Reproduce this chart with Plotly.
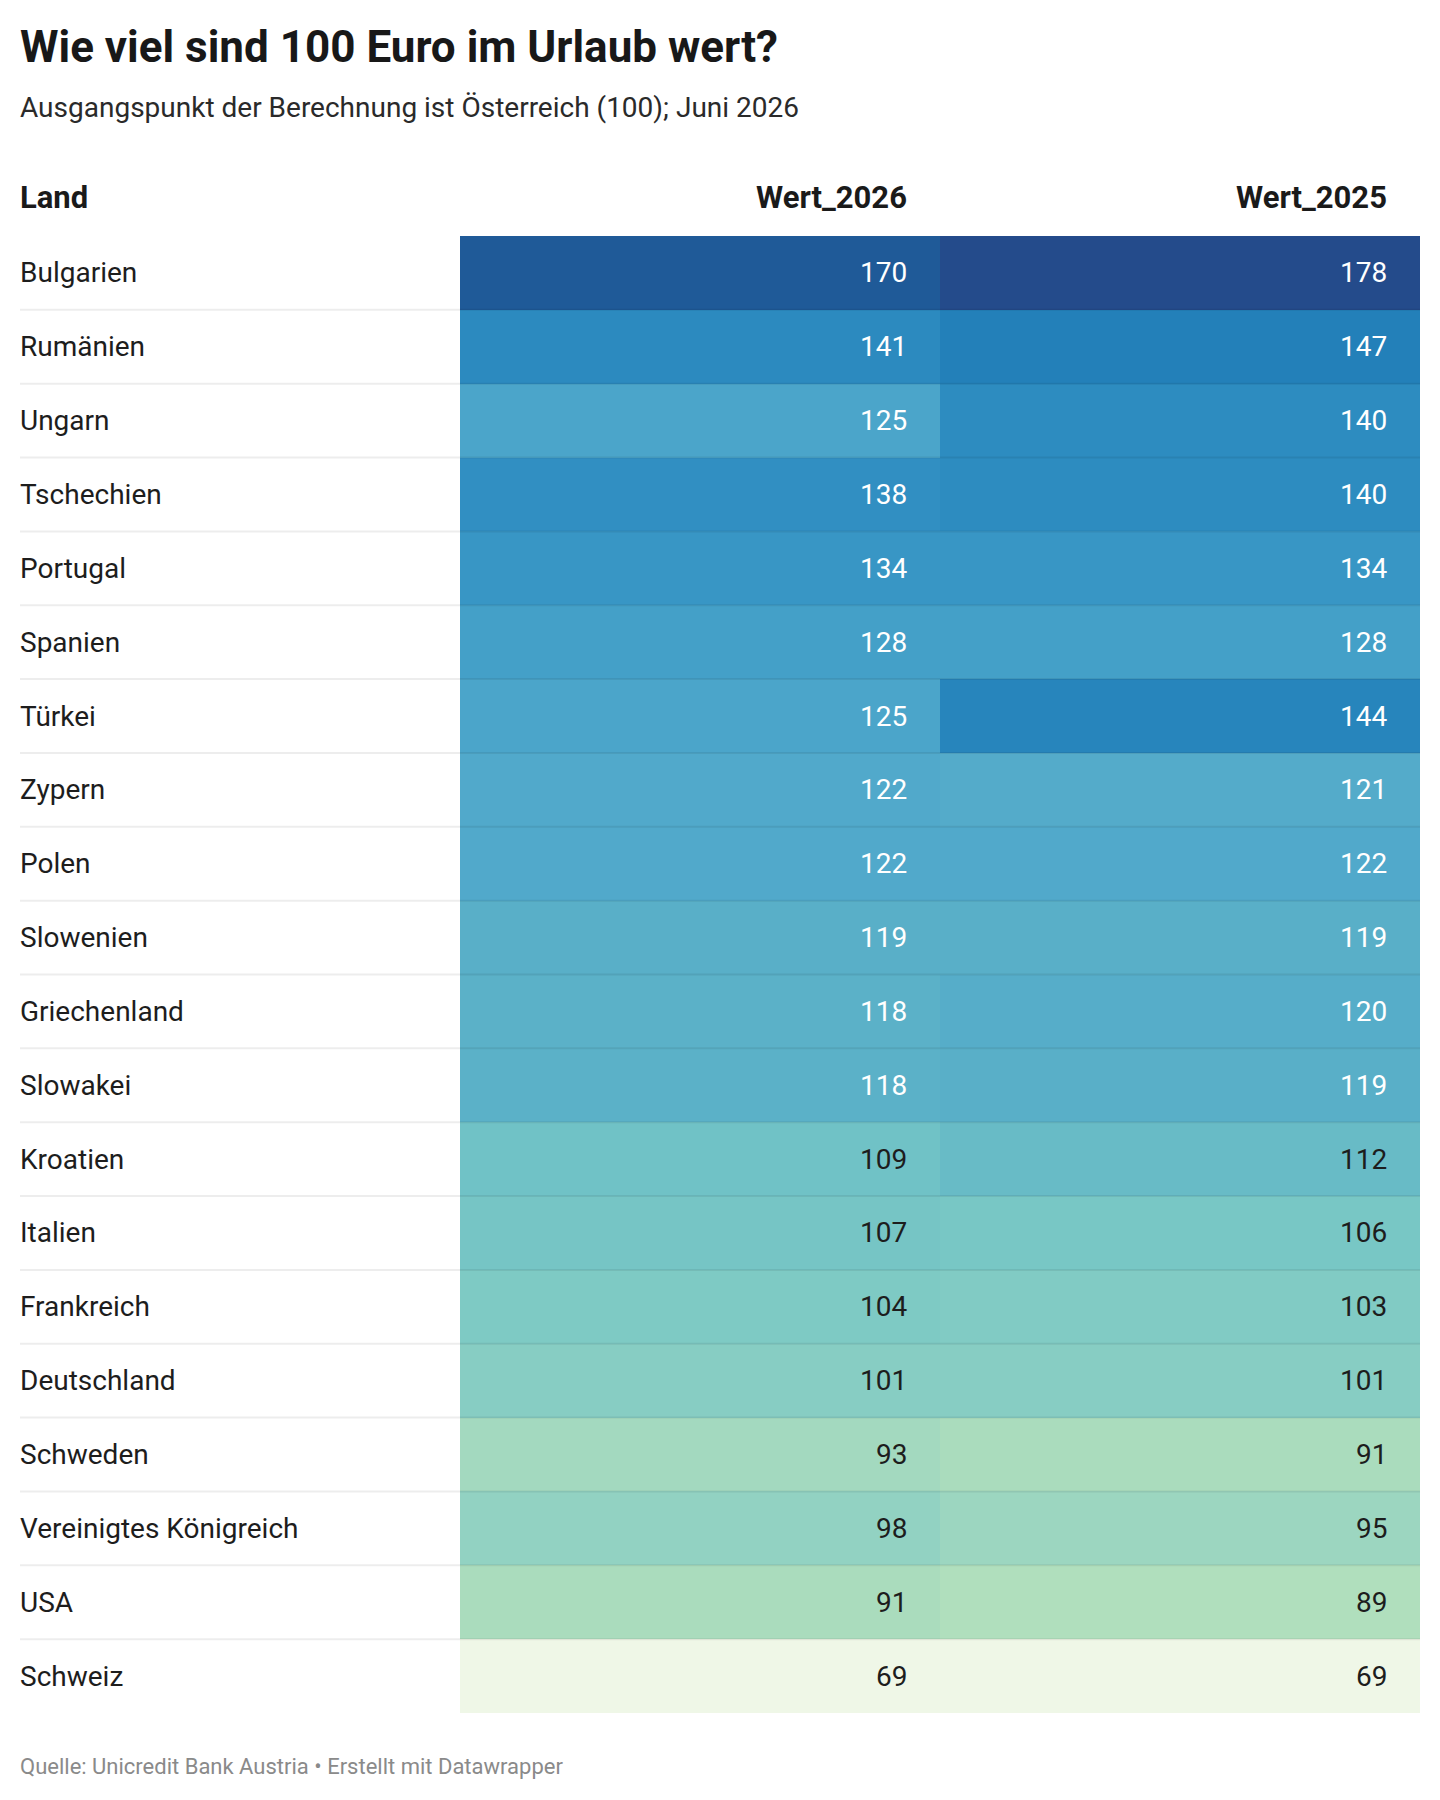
import plotly.graph_objects as go

# -------------------------------
# DATA
# -------------------------------
laender = ["Bulgarien", "Rumänien", "Ungarn", "Tschechien", "Portugal", "Spanien",
           "Türkei", "Zypern", "Polen", "Slowenien", "Griechenland", "Slowakei",
           "Kroatien", "Italien", "Frankreich", "Deutschland", "Schweden",
           "Vereinigtes Königreich", "USA", "Schweiz"]
wert_2026 = [170, 141, 125, 138, 134, 128, 125, 122, 122, 119, 118, 118,
             109, 107, 104, 101, 93, 98, 91, 69]
wert_2025 = [178, 147, 140, 140, 134, 128, 144, 121, 122, 119, 120, 119,
             112, 106, 103, 101, 91, 95, 89, 69]
spalten = ["Wert_2026", "Wert_2025"]

titel = "Wie viel sind 100 Euro im Urlaub wert?"
untertitel = "Ausgangspunkt der Berechnung ist Österreich (100); Juni 2026"
quelle = "Quelle: Unicredit Bank Austria • Erstellt mit Datawrapper"

# colour stops (value -> colour)
stop_werte = [69, 89, 91, 93, 101, 104, 109, 112, 119, 122, 128, 134, 140, 147, 170, 178]
stop_farben = ["#eff7e7", "#b0dfbd", "#aadcbd", "#a3d9bf", "#87cdc3", "#7ecac4",
               "#70c2c6", "#68bbc6", "#59afc8", "#51a9cb", "#44a0c8", "#3896c5",
               "#2d8cc0", "#2380b9", "#1f5a98", "#244b8b"]

# -------------------------------
# LAYOUT CONSTANTS (pixels)
# -------------------------------
W, H = 1440, 1800
ML, MR, MT, MB = 20, 20, 236, 87
label_w = 440      # width of the "Land" column
col_w = 480        # width of each value column
pad = 31           # right padding inside cells
FONT = "Roboto"

zmin, zmax = min(stop_werte), max(stop_werte)
colorscale = [[(v - zmin) / (zmax - zmin), c] for v, c in zip(stop_werte, stop_farben)]

z = [[a, b] for a, b in zip(wert_2026, wert_2025)]

fig = go.Figure()
fig.add_trace(go.Heatmap(
    x=[0, 1],
    y=list(range(len(laender))),
    z=z,
    zmin=zmin, zmax=zmax,
    colorscale=colorscale,
    showscale=False,
    hoverinfo="skip",
))

annotations = []

# country labels
for i, land in enumerate(laender):
    annotations.append(dict(
        x=0, xref="paper", y=i, yref="y", text=land, showarrow=False,
        xanchor="left", yanchor="middle", xshift=-2,
        font=dict(family=FONT, size=28, color="#1d1d1d"),
    ))

# values
for j, werte in enumerate([wert_2026, wert_2025]):
    for i, v in enumerate(werte):
        annotations.append(dict(
            x=j + 0.5, xref="x", y=i, yref="y", text=str(v), showarrow=False,
            xanchor="right", yanchor="middle", xshift=-pad,
            font=dict(family=FONT, size=28, color="#ffffff" if v >= 115 else "#1d1d1d"),
        ))

# header
annotations.append(dict(
    x=0, xref="paper", y=-0.5, yref="y", text="<b>Land</b>", showarrow=False,
    xanchor="left", yanchor="middle", xshift=-2, yshift=39,
    font=dict(family=FONT, size=31, color="#1a1a1a"),
))
for j, name in enumerate(spalten):
    annotations.append(dict(
        x=j + 0.5, xref="x", y=-0.5, yref="y", text="<b>%s</b>" % name, showarrow=False,
        xanchor="right", yanchor="middle", xshift=-pad, yshift=39,
        font=dict(family=FONT, size=31, color="#1a1a1a"),
    ))

# title, subtitle, footer
annotations.append(dict(
    x=0, xref="paper", y=1, yref="paper", text="<b>%s</b>" % titel, showarrow=False,
    xanchor="left", yanchor="middle", xshift=-2, yshift=MT - 47,
    font=dict(family=FONT, size=44, color="#181818"),
))
annotations.append(dict(
    x=0, xref="paper", y=1, yref="paper", text=untertitel, showarrow=False,
    xanchor="left", yanchor="middle", xshift=-2, yshift=MT - 107,
    font=dict(family=FONT, size=28, color="#2a2a2a"),
))
annotations.append(dict(
    x=0, xref="paper", y=0, yref="paper", text=quelle, showarrow=False,
    xanchor="left", yanchor="middle", xshift=-2, yshift=-53,
    font=dict(family=FONT, size=22, color="#8a8a8a"),
))

# row separators + header rule
shapes = []
for i in range(len(laender) - 1):
    shapes.append(dict(
        type="line", xref="paper", x0=0, x1=1, yref="y", y0=i + 0.5, y1=i + 0.5,
        line=dict(color="rgba(0,0,0,0.07)", width=2), layer="above",
    ))
shapes.append(dict(
    type="line", xref="paper", x0=0, x1=1, yref="y", ysizemode="pixel", yanchor=-0.5,
    y0=2, y1=2, line=dict(color="#333333", width=4), layer="above",
))

fig.update_layout(
    width=W, height=H,
    margin=dict(l=ML, r=MR, t=MT, b=MB),
    paper_bgcolor="white", plot_bgcolor="white",
    annotations=annotations,
    shapes=shapes,
    showlegend=False,
)
fig.update_xaxes(range=[-0.5 - label_w / col_w, 1.5], visible=False, fixedrange=True)
fig.update_yaxes(range=[len(laender) - 0.5, -0.5], visible=False, fixedrange=True)

fig.write_html("out.html", config={"displayModeBar": False},
               post_script="document.body.style.margin='0';")
